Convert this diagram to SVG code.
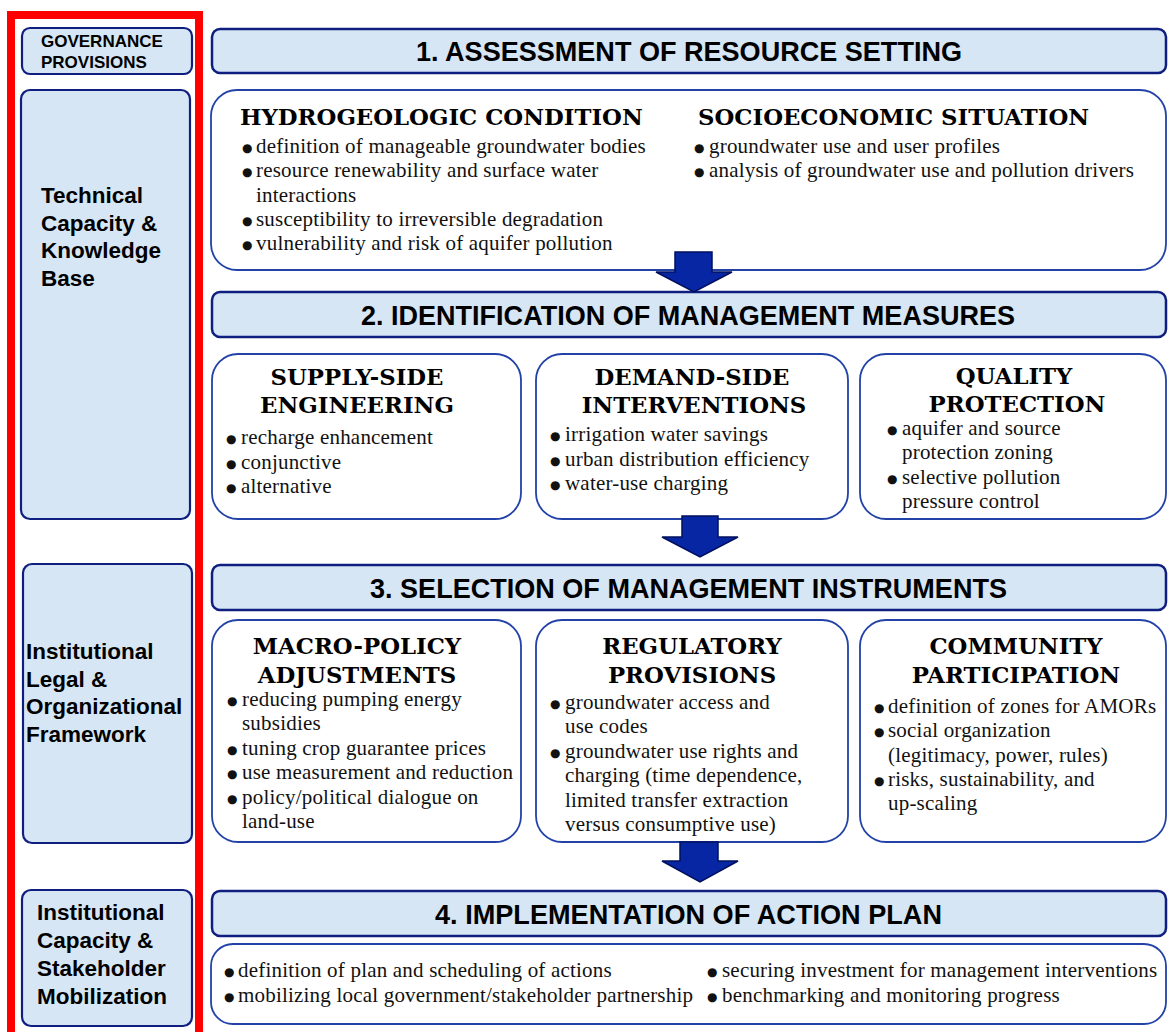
<svg xmlns="http://www.w3.org/2000/svg" width="1168" height="1032" viewBox="0 0 1168 1032">
<style>
.side{fill:#d6e6f5;stroke:#0f1f80;stroke-width:2.2}
.hdr{fill:#d6e6f5;stroke:#0f1f80;stroke-width:2.5}
.box{fill:#ffffff;stroke:#2242a8;stroke-width:1.8}
.lbl{font-family:"Liberation Sans",Arial,sans-serif;font-weight:bold;font-size:22.5px;fill:#000}
.gov{font-family:"Liberation Sans",Arial,sans-serif;font-weight:bold;font-size:17px;fill:#000}
.ht{font-family:"Liberation Sans",Arial,sans-serif;font-weight:bold;font-size:28px;fill:#000;text-anchor:middle}
.bh{font-family:"DejaVu Serif","Liberation Serif",serif;font-weight:bold;font-size:22.8px;fill:#000}
.bhc{font-family:"DejaVu Serif","Liberation Serif",serif;font-weight:bold;font-size:22.8px;fill:#000;text-anchor:middle}
.tx{font-family:"Liberation Serif","Times New Roman",serif;font-size:21px;letter-spacing:0.2px;fill:#111}
.b{font-family:"DejaVu Sans",sans-serif;font-size:12px;letter-spacing:0}
.arr{fill:#0726a3;stroke:#00105e;stroke-width:1.5;stroke-linejoin:miter}
</style>
<rect width="1168" height="1032" fill="#ffffff"/>
<rect x="11" y="15" width="188" height="1040" fill="none" stroke="#ff0000" stroke-width="8"/>

<g id="gov-provisions">
<rect class="side" x="22" y="28" width="170" height="46" rx="8"/>
<text class="gov" x="41" y="47">GOVERNANCE</text>
<text class="gov" x="41" y="68">PROVISIONS</text>
</g>
<g id="technical-capacity">
<rect class="side" x="21" y="90" width="169" height="429" rx="9"/>
<text class="lbl" x="41" y="203">Technical</text>
<text class="lbl" x="41" y="231">Capacity &amp;</text>
<text class="lbl" x="41" y="258">Knowledge</text>
<text class="lbl" x="41" y="286">Base</text>
</g>
<g id="institutional-legal">
<rect class="side" x="23" y="564" width="169" height="279" rx="9"/>
<text class="lbl" x="26" y="659">Institutional</text>
<text class="lbl" x="26" y="687">Legal &amp;</text>
<text class="lbl" x="26" y="714">Organizational</text>
<text class="lbl" x="26" y="742">Framework</text>
</g>
<g id="institutional-capacity">
<rect class="side" x="22" y="890" width="170" height="136" rx="9"/>
<text class="lbl" x="37" y="920">Institutional</text>
<text class="lbl" x="37" y="948">Capacity &amp;</text>
<text class="lbl" x="37" y="976">Stakeholder</text>
<text class="lbl" x="37" y="1004">Mobilization</text>
</g>

<g id="step1-header">
<rect class="hdr" x="212" y="29" width="954" height="44" rx="8"/>
<text class="ht" x="689" y="61" textLength="546" lengthAdjust="spacingAndGlyphs">1. ASSESSMENT OF RESOURCE SETTING</text>
</g>
<g id="resource-setting">
<rect class="box" x="211" y="90" width="955" height="180" rx="26"/>
<text class="bh" x="240" y="125">HYDROGEOLOGIC CONDITION</text>
<text class="bh" x="698" y="125">SOCIOECONOMIC SITUATION</text>
<text class="tx" x="242" y="152"><tspan class="b">●</tspan><tspan x="256" y="153">definition of manageable groundwater bodies</tspan></text>
<text class="tx" x="242" y="176"><tspan class="b">●</tspan><tspan x="256" y="177">resource renewability and surface water</tspan></text>
<text class="tx" x="256" y="202">interactions</text>
<text class="tx" x="242" y="225"><tspan class="b">●</tspan><tspan x="256" y="226">susceptibility to irreversible degradation</tspan></text>
<text class="tx" x="242" y="249"><tspan class="b">●</tspan><tspan x="256" y="250">vulnerability and risk of aquifer pollution</tspan></text>
<text class="tx" x="694" y="152"><tspan class="b">●</tspan><tspan x="709" y="153">groundwater use and user profiles</tspan></text>
<text class="tx" x="694" y="176"><tspan class="b">●</tspan><tspan x="709" y="177">analysis of groundwater use and pollution drivers</tspan></text>
</g>

<g id="step2-header">
<rect class="hdr" x="212" y="292" width="954" height="45" rx="8"/>
<text class="ht" x="688" y="325" textLength="654" lengthAdjust="spacingAndGlyphs">2. IDENTIFICATION OF MANAGEMENT MEASURES</text>
</g>
<g id="supply-side">
<rect class="box" x="212" y="354" width="309" height="165" rx="26"/>
<text class="bhc" x="357" y="385">SUPPLY-SIDE</text>
<text class="bhc" x="357" y="413">ENGINEERING</text>
<text class="tx" x="226" y="443"><tspan class="b">●</tspan><tspan x="241" y="444">recharge enhancement</tspan></text>
<text class="tx" x="226" y="468"><tspan class="b">●</tspan><tspan x="241" y="469">conjunctive</tspan></text>
<text class="tx" x="226" y="492"><tspan class="b">●</tspan><tspan x="241" y="493">alternative</tspan></text>
</g>
<g id="demand-side">
<rect class="box" x="536" y="354" width="312" height="165" rx="26"/>
<text class="bhc" x="692" y="385">DEMAND-SIDE</text>
<text class="bhc" x="694" y="413">INTERVENTIONS</text>
<text class="tx" x="550" y="440"><tspan class="b">●</tspan><tspan x="565" y="441">irrigation water savings</tspan></text>
<text class="tx" x="550" y="465"><tspan class="b">●</tspan><tspan x="565" y="466">urban distribution efficiency</tspan></text>
<text class="tx" x="550" y="489"><tspan class="b">●</tspan><tspan x="565" y="490">water-use charging</tspan></text>
</g>
<g id="quality-protection">
<rect class="box" x="860" y="354" width="306" height="165" rx="26"/>
<text class="bhc" x="1014" y="384">QUALITY</text>
<text class="bhc" x="1017" y="412">PROTECTION</text>
<text class="tx" x="887" y="434"><tspan class="b">●</tspan><tspan x="902" y="435">aquifer and source</tspan></text>
<text class="tx" x="902" y="459">protection zoning</text>
<text class="tx" x="887" y="483"><tspan class="b">●</tspan><tspan x="902" y="484">selective pollution</tspan></text>
<text class="tx" x="902" y="508">pressure control</text>
</g>

<g id="step3-header">
<rect class="hdr" x="212" y="565" width="954" height="45" rx="8"/>
<text class="ht" x="688.5" y="598" textLength="637" lengthAdjust="spacingAndGlyphs">3. SELECTION OF MANAGEMENT INSTRUMENTS</text>
</g>
<g id="macro-policy">
<rect class="box" x="212" y="620" width="309" height="222" rx="26"/>
<text class="bhc" x="357" y="654">MACRO-POLICY</text>
<text class="bhc" x="357" y="683">ADJUSTMENTS</text>
<text class="tx" x="227" y="705"><tspan class="b">●</tspan><tspan x="242" y="706">reducing pumping energy</tspan></text>
<text class="tx" x="242" y="730">subsidies</text>
<text class="tx" x="227" y="754"><tspan class="b">●</tspan><tspan x="242" y="755">tuning crop guarantee prices</tspan></text>
<text class="tx" x="227" y="778"><tspan class="b">●</tspan><tspan x="242" y="779">use measurement and reduction</tspan></text>
<text class="tx" x="227" y="803"><tspan class="b">●</tspan><tspan x="242" y="804">policy/political dialogue on</tspan></text>
<text class="tx" x="242" y="828">land-use</text>
</g>
<g id="regulatory-provisions">
<rect class="box" x="536" y="620" width="312" height="222" rx="26"/>
<text class="bhc" x="692" y="654">REGULATORY</text>
<text class="bhc" x="692" y="683">PROVISIONS</text>
<text class="tx" x="550" y="708"><tspan class="b">●</tspan><tspan x="565" y="709">groundwater access and</tspan></text>
<text class="tx" x="565" y="733">use codes</text>
<text class="tx" x="550" y="757"><tspan class="b">●</tspan><tspan x="565" y="758">groundwater use rights and</tspan></text>
<text class="tx" x="565" y="782">charging (time dependence,</text>
<text class="tx" x="565" y="807">limited transfer extraction</text>
<text class="tx" x="565" y="831">versus consumptive use)</text>
</g>
<g id="community-participation">
<rect class="box" x="860" y="620" width="306" height="222" rx="26"/>
<text class="bhc" x="1016" y="654">COMMUNITY</text>
<text class="bhc" x="1016" y="683">PARTICIPATION</text>
<text class="tx" x="874" y="712"><tspan class="b">●</tspan><tspan x="888" y="713">definition of zones for AMORs</tspan></text>
<text class="tx" x="874" y="736"><tspan class="b">●</tspan><tspan x="888" y="737">social organization</tspan></text>
<text class="tx" x="888" y="762">(legitimacy, power, rules)</text>
<text class="tx" x="874" y="785"><tspan class="b">●</tspan><tspan x="888" y="786">risks, sustainability, and</tspan></text>
<text class="tx" x="888" y="810">up-scaling</text>
</g>

<g id="step4-header">
<rect class="hdr" x="212" y="891" width="954" height="45" rx="8"/>
<text class="ht" x="688.5" y="924" textLength="507" lengthAdjust="spacingAndGlyphs">4. IMPLEMENTATION OF ACTION PLAN</text>
</g>
<g id="action-plan">
<rect class="box" x="211" y="944" width="955" height="80" rx="22"/>
<text class="tx" x="224" y="976"><tspan class="b">●</tspan><tspan x="238" y="977">definition of plan and scheduling of actions</tspan></text>
<text class="tx" x="224" y="1001"><tspan class="b">●</tspan><tspan x="238" y="1002">mobilizing local government/stakeholder partnership</tspan></text>
<text class="tx" x="707" y="976"><tspan class="b">●</tspan><tspan x="722" y="977">securing investment for management interventions</tspan></text>
<text class="tx" x="707" y="1001"><tspan class="b">●</tspan><tspan x="722" y="1002">benchmarking and monitoring progress</tspan></text>
</g>

<g id="connectors">
<polygon class="arr" points="675,252 712,252 712,272 732,272 694,292 656,272 675,272"/>
<polygon class="arr" points="682,516 718,516 718,537 738,537 700,557 662,537 682,537"/>
<polygon class="arr" points="680,842 718,842 718,861 738,861 700,882 662,861 680,861"/>
</g>
</svg>
